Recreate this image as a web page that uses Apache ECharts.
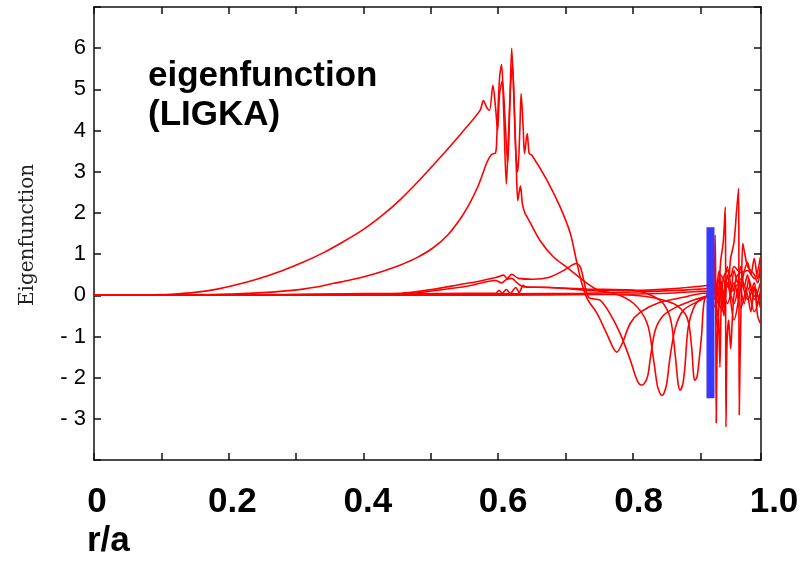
<!DOCTYPE html>
<html>
<head>
<meta charset="utf-8">
<script src="https://cdn.jsdelivr.net/npm/echarts@6/dist/echarts.min.js"></script>
<style>
html,body{margin:0;padding:0;background:#fff;}
#chart{width:807px;height:562px;}
</style>
</head>
<body>
<div id="chart"></div>
<script>
// r/a label positions (bold labels below the frame)
const xLabelTicks = [0, 0.2, 0.4, 0.6, 0.8, 1.0];
const yTickLabels = {6:'6',5:'5',4:'4',3:'3',2:'2',1:'1',0:'0','-1':'- 1','-2':'- 2','-3':'- 3'};
const titleLines = ['eigenfunction', '(LIGKA)'];
const xTitle = 'r/a';
const yTitle = 'Eigenfunction';

// [r/a, eigenfunction] pairs
const curve1 = [[0,0],[0.05,0],[0.09,0.01],[0.12,0.03],[0.15,0.07],[0.183,0.15],[0.22,0.29],[0.257,0.47],[0.28,0.60],[0.31,0.80],[0.34,1.03],[0.37,1.30],[0.40,1.60],[0.43,1.97],[0.455,2.33],[0.485,2.83],[0.514,3.35],[0.545,3.93],[0.573,4.49],[0.578,4.73],[0.583,4.56],[0.587,4.49],[0.592,5.1],[0.596,4.56],[0.599,4.0],[0.602,4.9],[0.606,5.2],[0.610,4.3],[0.614,3.2],[0.617,4.5],[0.620,6.0],[0.623,4.9],[0.626,3.5],[0.629,3.0],[0.632,4.0],[0.634,4.9],[0.637,4.08],[0.639,3.44],[0.643,3.93],[0.646,3.44],[0.650,3.4],[0.672,2.8],[0.692,2.14],[0.707,1.5],[0.717,0.77],[0.724,0.29],[0.732,-0.08],[0.747,-0.45],[0.761,-0.93],[0.776,-1.38],[0.784,-1.17],[0.796,-0.68],[0.811,-0.41],[0.840,-0.17],[0.875,-0.05],[0.905,0.05],[0.915,0.05],[0.919,0.3],[0.925,-0.2],[0.93,0.4],[0.935,-0.3],[0.94,0.5],[0.945,0.1],[0.95,0.6],[0.955,0.3],[0.96,0.7],[0.965,0.2],[0.97,0.5],[0.975,0.1],[0.98,0.3],[0.985,-0.2],[0.989,0.1]];
const curve2 = [[0,0],[0.1,0],[0.15,0.01],[0.2,0.03],[0.23,0.045],[0.257,0.07],[0.28,0.1],[0.31,0.15],[0.33,0.2],[0.356,0.29],[0.38,0.37],[0.405,0.47],[0.43,0.59],[0.455,0.735],[0.48,0.92],[0.504,1.16],[0.525,1.465],[0.544,1.865],[0.557,2.215],[0.569,2.61],[0.577,2.95],[0.583,3.22],[0.590,3.42],[0.596,3.46],[0.598,3.9],[0.602,5.3],[0.605,5.6],[0.608,4.5],[0.612,2.7],[0.615,3.8],[0.618,5.0],[0.621,5.6],[0.624,4.5],[0.627,3.0],[0.629,2.3],[0.631,2.5],[0.633,2.65],[0.636,2.2],[0.640,1.98],[0.643,1.9],[0.662,1.33],[0.682,0.93],[0.702,0.68],[0.732,0.29],[0.751,0.12],[0.80,0.12],[0.85,0.15],[0.90,0.22],[0.915,0.25],[0.92,0.3],[0.922,1.46],[0.9228,0.2],[0.9235,-3.1],[0.925,-1.2],[0.927,-0.4],[0.929,-1.75],[0.931,-0.2],[0.934,0.4],[0.94,0.6],[0.945,0.45],[0.95,0.7],[0.96,0.55],[0.97,0.6],[0.98,0.4],[0.989,0.92]];
const curve3 = [[0,0],[0.2,0],[0.3,0.02],[0.4,0.04],[0.455,0.05],[0.554,0.29],[0.598,0.44],[0.608,0.49],[0.613,0.41],[0.620,0.51],[0.630,0.41],[0.652,0.39],[0.676,0.44],[0.697,0.6],[0.716,0.77],[0.722,0.68],[0.727,0.36],[0.734,-0.05],[0.751,-0.12],[0.766,-0.45],[0.781,-0.93],[0.796,-1.57],[0.804,-1.98],[0.809,-2.15],[0.813,-2.18],[0.817,-2.14],[0.822,-1.95],[0.826,-1.5],[0.833,-0.85],[0.845,-0.49],[0.865,-0.28],[0.889,-0.12],[0.904,-0.05],[0.915,0],[0.92,0.2],[0.925,-0.5],[0.93,0.8],[0.934,1.3],[0.937,2.14],[0.9375,0.3],[0.938,-3.2],[0.9395,-1.2],[0.942,-0.6],[0.945,-1.3],[0.948,-0.4],[0.952,0.2],[0.96,0.3],[0.97,-0.1],[0.98,0.2],[0.989,-0.3]];
const curve4 = [[0,0],[0.2,0],[0.455,0.03],[0.554,0.22],[0.596,0.36],[0.605,0.3],[0.612,0.38],[0.620,0.41],[0.628,0.3],[0.638,0.2],[0.676,0.19],[0.732,0.12],[0.771,0.05],[0.801,-0.2],[0.821,-0.68],[0.830,-1.5],[0.836,-2.18],[0.840,-2.38],[0.843,-2.43],[0.846,-2.38],[0.850,-2.15],[0.855,-1.5],[0.863,-0.78],[0.875,-0.36],[0.900,-0.12],[0.915,0],[0.92,-0.3],[0.93,0.5],[0.94,0.2],[0.945,0.9],[0.95,1.3],[0.9535,2.0],[0.9567,2.6],[0.9572,0.5],[0.9577,-2.9],[0.959,-1.5],[0.961,0.2],[0.963,1.26],[0.966,1.0],[0.97,0.7],[0.975,0.6],[0.98,0.5],[0.985,0.3],[0.989,0.6]];
const curve5 = [[0,0],[0.3,0.01],[0.554,0.05],[0.596,0.05],[0.601,0.12],[0.606,0.05],[0.612,0.14],[0.618,0.05],[0.626,0.19],[0.631,0.07],[0.637,0.24],[0.642,0.2],[0.676,0.19],[0.732,0.15],[0.801,0.12],[0.840,-0.12],[0.855,-0.53],[0.863,-1.5],[0.867,-2.15],[0.870,-2.3],[0.874,-2.15],[0.877,-1.75],[0.882,-0.78],[0.892,-0.24],[0.904,-0.05],[0.915,0],[0.92,0.4],[0.925,-0.8],[0.93,0.1],[0.935,-0.5],[0.94,0.3],[0.95,-0.2],[0.96,0.4],[0.97,0.0],[0.975,-0.4],[0.98,0.2],[0.985,-0.5],[0.989,-0.68]];
const curve6 = [[0,0],[0.5,0.02],[0.7,0.03],[0.8,0.0],[0.86,-0.2],[0.880,-0.53],[0.887,-1.26],[0.890,-1.95],[0.892,-2.06],[0.895,-1.98],[0.898,-1.6],[0.902,-0.93],[0.906,-0.12],[0.915,0.1],[0.92,-0.1],[0.928,0.6],[0.932,-0.4],[0.94,0.7],[0.948,0.1],[0.955,0.5],[0.965,-0.2],[0.972,0.4],[0.98,-0.1],[0.989,0.3]];
const curve7 = [[0,0],[0.5,0.03],[0.73,0.05],[0.8,0.08],[0.9,0.15],[0.915,0.2],[0.92,0.5],[0.93,-0.3],[0.94,0.3],[0.95,-0.6],[0.96,0.2],[0.97,0.8],[0.975,0.5],[0.98,0.9],[0.985,0.4],[0.989,0.7]];
const curve8 = [[0,0],[0.6,0.0],[0.75,0.02],[0.85,0.05],[0.915,0.1],[0.92,0.1],[0.93,0.2],[0.94,-0.2],[0.95,0.3],[0.96,-0.3],[0.97,0.2],[0.98,-0.4],[0.989,0.0]];
const redCurves = [curve1, curve2, curve3, curve4, curve5, curve6, curve7, curve8];
const blueMarker = [[0.915, 1.65], [0.915, -2.5]];

const chart = echarts.init(document.getElementById('chart'), null, {renderer: 'canvas'});

const frameLine = {show: true, onZero: false, lineStyle: {color: '#111', width: 1.5}};
const inTick = {show: true, inside: true, length: 7, lineStyle: {color: '#111', width: 1.5}};

const series = redCurves.map(function (d) {
  return {
    type: 'line', xAxisIndex: 0, yAxisIndex: 0, data: d,
    showSymbol: false, smooth: 0.3, clip: true, silent: true,
    lineStyle: {color: '#ff0000', width: 1.6}
  };
});
series.push({
  type: 'line', xAxisIndex: 0, yAxisIndex: 0, data: blueMarker,
  showSymbol: false, clip: true, silent: true, z: 5,
  lineStyle: {color: '#3838ff', width: 8, cap: 'butt'}
});

const option = {
  animation: false,
  backgroundColor: '#fff',
  grid: [
    {left: 94, top: 7, width: 667, height: 453},
    {left: 97, top: 7, width: 677, height: 453}
  ],
  xAxis: [
    {gridIndex: 0, type: 'value', min: 0, max: 0.99, interval: 0.1, position: 'bottom',
     axisLine: frameLine, axisTick: inTick, axisLabel: {show: false}, splitLine: {show: false}},
    {gridIndex: 0, type: 'value', min: 0, max: 0.99, interval: 0.1, position: 'top',
     axisLine: frameLine, axisTick: inTick, axisLabel: {show: false}, splitLine: {show: false}},
    {gridIndex: 1, type: 'value', min: 0, max: 1, interval: 0.2, position: 'bottom',
     axisLine: {show: false, onZero: false}, axisTick: {show: false}, splitLine: {show: false},
     axisLabel: {show: true, margin: 25, color: '#000', fontSize: 35, fontWeight: 'bold',
       fontFamily: 'Liberation Sans, Arial, sans-serif',
       formatter: function (v) {
         const k = xLabelTicks.findIndex(function (t) { return Math.abs(t - v) < 1e-6; });
         if (k < 0) return '';
         return k === 0 ? '0' : xLabelTicks[k].toFixed(1);
       }}}
  ],
  yAxis: [
    {gridIndex: 0, type: 'value', min: -4, max: 7, interval: 1, position: 'left',
     axisLine: frameLine, axisTick: inTick, splitLine: {show: false},
     axisLabel: {show: true, margin: 8, color: '#000', fontSize: 22,
       fontFamily: 'Liberation Sans, Arial, sans-serif',
       formatter: function (v) { const s = yTickLabels[String(Math.round(v))]; return s === undefined ? '' : s; }}},
    {gridIndex: 0, type: 'value', min: -4, max: 7, interval: 1, position: 'right',
     axisLine: frameLine, axisTick: inTick, axisLabel: {show: false}, splitLine: {show: false}},
    {gridIndex: 1, type: 'value', min: -4, max: 7, show: false}
  ],
  graphic: [
    {type: 'text', left: 148, top: 59, z: 10,
     style: {text: titleLines[0], fill: '#000', font: 'bold 35px "Liberation Sans", Arial, sans-serif'}},
    {type: 'text', left: 148, top: 98, z: 10,
     style: {text: titleLines[1], fill: '#000', font: 'bold 35px "Liberation Sans", Arial, sans-serif'}},
    {type: 'text', left: 87, top: 524, z: 10,
     style: {text: xTitle, fill: '#000', font: 'bold 35px "Liberation Sans", Arial, sans-serif'}},
    {type: 'text', x: 28, y: 235, rotation: Math.PI / 2, z: 10,
     style: {text: yTitle, fill: '#222', font: '20px "DejaVu Serif", serif', align: 'center', verticalAlign: 'middle'}}
  ],
  series: series
};
chart.setOption(option);
</script>
</body>
</html>
